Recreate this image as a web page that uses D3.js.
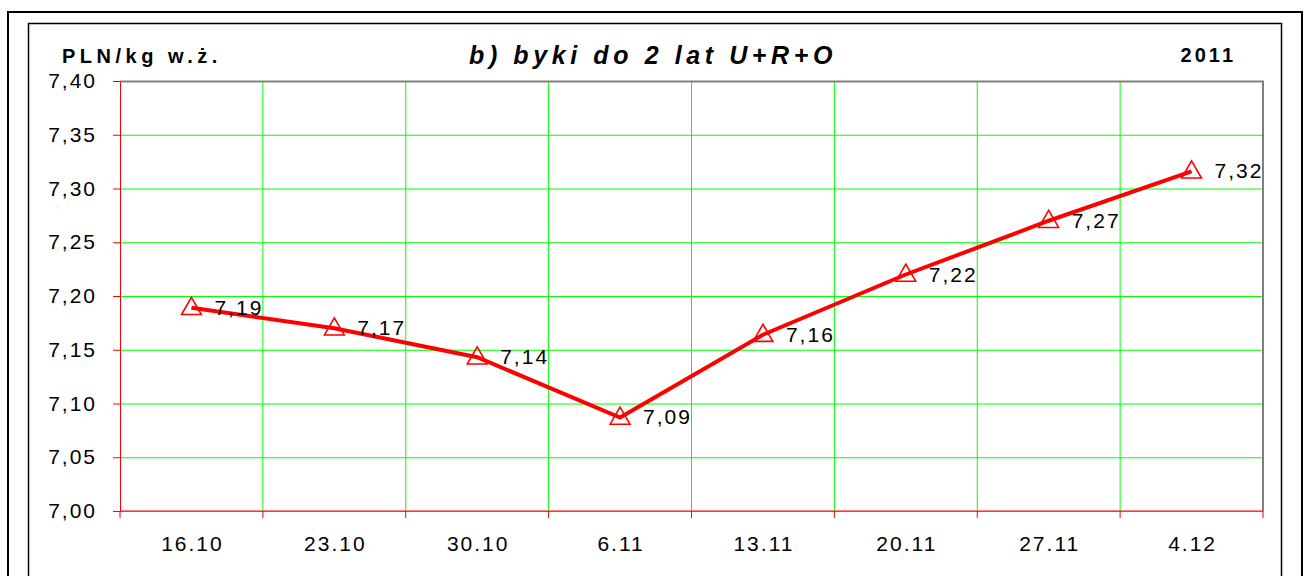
<!DOCTYPE html>
<html>
<head>
<meta charset="utf-8">
<script src="https://cdn.jsdelivr.net/npm/d3@7"></script>
<style>
  body { margin: 0; background: #fff; }
  svg text { font-family: "Liberation Sans", Arial, sans-serif; }
</style>
</head>
<body>
<div id="chart"></div>
<script>
const categories = ["16.10", "23.10", "30.10", "6.11", "13.11", "20.11", "27.11", "4.12"];
const prices = [7.189, 7.170, 7.143, 7.087, 7.164, 7.220, 7.270, 7.316];
const yTicks = [7.00, 7.05, 7.10, 7.15, 7.20, 7.25, 7.30, 7.35, 7.40];

const W = 1306, H = 576;
const margin = { top: 81, right: 43, bottom: 65, left: 120 };
const width = W - margin.left - margin.right;
const height = H - margin.top - margin.bottom;

const svg = d3.select("#chart").append("svg")
  .attr("width", W)
  .attr("height", H);

// frames
svg.append("rect")
  .attr("x", 8).attr("y", 12)
  .attr("width", 1294).attr("height", 600)
  .attr("fill", "none").attr("stroke", "#000").attr("stroke-width", 2);
svg.append("rect")
  .attr("x", 28.5).attr("y", 23.5)
  .attr("width", 1253).attr("height", 600)
  .attr("fill", "none").attr("stroke", "#000").attr("stroke-width", 1.5);

const g = svg.append("g")
  .attr("transform", `translate(${margin.left},${margin.top})`);

const x = d3.scaleBand().domain(categories).range([0, width]);
const y = d3.scaleLinear().domain([7.0, 7.4]).range([height, 0]);
const fmt = v => d3.format(".2f")(v).replace(".", ",");

// horizontal grid
g.append("g")
  .call(d3.axisLeft(y).tickValues(yTicks).tickSize(-width).tickFormat(""))
  .call(a => a.select(".domain").remove())
  .call(a => a.selectAll("line").attr("stroke", "#00ff00").attr("stroke-width", 1));

// vertical grid at category boundaries
g.append("g")
  .selectAll("line")
  .data(categories.slice(1))
  .join("line")
  .attr("x1", d => x(d)).attr("x2", d => x(d))
  .attr("y1", 0).attr("y2", height)
  .attr("stroke", "#00ff00").attr("stroke-width", 1);

// top and right border
g.append("path")
  .attr("d", `M0,0.5H${width}V${height}`)
  .attr("fill", "none").attr("stroke", "#808080").attr("stroke-width", 2);

// y axis
g.append("g")
  .call(d3.axisLeft(y).tickValues(yTicks).tickSize(7).tickPadding(16).tickFormat(fmt))
  .call(a => a.select(".domain").attr("stroke", "#ff0000"))
  .call(a => a.selectAll("line").attr("stroke", "#ff0000"))
  .call(a => a.selectAll("text")
    .attr("fill", "#000")
    .style("font-size", "21px")
    .style("letter-spacing", "2px"));

// x axis
const xAxis = g.append("g")
  .attr("transform", `translate(0,${height})`);
xAxis.append("line")
  .attr("x1", 0).attr("x2", width)
  .attr("stroke", "#ff0000");
xAxis.selectAll(".xtick")
  .data(categories.concat(["end"]))
  .join("line")
  .attr("class", "xtick")
  .attr("x1", (d, i) => i * x.bandwidth())
  .attr("x2", (d, i) => i * x.bandwidth())
  .attr("y1", 0).attr("y2", 7)
  .attr("stroke", "#ff0000");
xAxis.selectAll(".xlabel")
  .data(categories)
  .join("text")
  .attr("class", "xlabel")
  .attr("x", d => x(d) + x.bandwidth() / 2 + 1)
  .attr("y", 40)
  .attr("text-anchor", "middle")
  .style("font-size", "21px")
  .style("letter-spacing", "2px")
  .text(d => d);

// line
const line = d3.line()
  .x((d, i) => x(categories[i]) + x.bandwidth() / 2)
  .y(d => y(d));

g.append("path")
  .datum(prices)
  .attr("d", line)
  .attr("fill", "none")
  .attr("stroke", "#ff0000")
  .attr("stroke-width", 4);

// triangle markers
const tri = d3.symbol().type(d3.symbolTriangle).size(170);
g.selectAll(".marker")
  .data(prices)
  .join("path")
  .attr("class", "marker")
  .attr("d", tri)
  .attr("transform", (d, i) => `translate(${x(categories[i]) + x.bandwidth() / 2},${y(d) + 1})`)
  .attr("fill", "none")
  .attr("stroke", "#ff0000")
  .attr("stroke-width", 1.6);

// labels
g.selectAll(".vlabel")
  .data(prices)
  .join("text")
  .attr("class", "vlabel")
  .attr("x", (d, i) => x(categories[i]) + x.bandwidth() / 2 + 23)
  .attr("y", d => y(d) + 7)
  .style("font-size", "21px")
  .style("letter-spacing", "2px")
  .text(d => fmt(d));

// titles
svg.append("text")
  .attr("x", 62).attr("y", 63)
  .style("font-size", "20px").style("font-weight", "bold")
  .style("letter-spacing", "4.5px")
  .text("PLN/kg w.ż.");

svg.append("text")
  .attr("x", 653).attr("y", 64)
  .attr("text-anchor", "middle")
  .style("font-size", "25px").style("font-weight", "bold").style("font-style", "italic")
  .style("letter-spacing", "4.6px")
  .text("b) byki do 2 lat U+R+O");

svg.append("text")
  .attr("x", 1236).attr("y", 62)
  .attr("text-anchor", "end")
  .style("font-size", "20px").style("font-weight", "bold")
  .style("letter-spacing", "3px")
  .text("2011");
</script>
</body>
</html>
